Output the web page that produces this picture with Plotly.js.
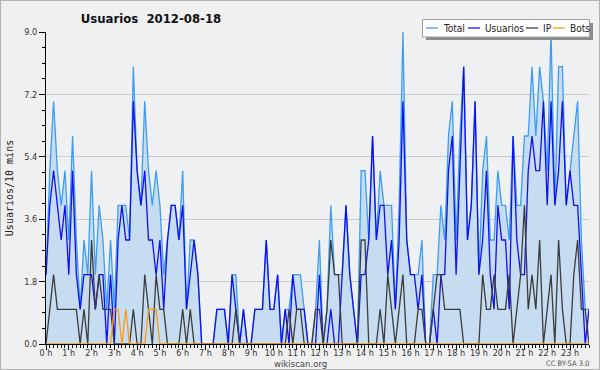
<!DOCTYPE html>
<html>
<head>
<meta charset="utf-8">
<script src="https://cdn.plot.ly/plotly-3.0.1.min.js"></script>
<style>
  html, body { margin: 0; padding: 0; background: #f0f0f0; }
  #wrap { position: relative; width: 600px; height: 370px; }
  #chart { width: 600px; height: 370px; }
  #frame { position: absolute; left: 0; top: 0; width: 600px; height: 370px; box-sizing: border-box;
           border: 1px solid #b4b4b4; pointer-events: none; }
</style>
</head>
<body>
<div id="wrap"><div id="chart"></div><div id="frame"></div></div>
<script>
// ---- data (one value per 10-minute slot, 2012-08-18) ----
const hourLabels = ['0 h','1 h','2 h','3 h','4 h','5 h','6 h','7 h','8 h','9 h','10 h','11 h',
                    '12 h','13 h','14 h','15 h','16 h','17 h','18 h','19 h','20 h','21 h','22 h','23 h'];

const total = [
  2,5,7,5,4,5,3,6,3,1,3,2,5,2,4,3,1,3,1,4,4,4,3,8,
  5,4,7,5,4,5,4,2,3,4,4,3,5,1,3,3,2,0,0,0,0,1,1,1,
  0,2,2,0,1,0,0,1,1,1,3,1,1,2,0,1,1,2,2,2,1,0,0,1,
  3,0,1,4,2,2,2,4,2,1,0,5,5,3,6,3,5,4,4,4,1,4,9,3,
  2,2,2,3,0,0,2,2,4,3,6,7,3,6,8,3,4,7,2,5,6,3,3,5,
  4,4,3,6,4,4,6,6,8,6,8,7,5,9,4,8,8,4,5,6,7,3,1,1
];
const usuarios = [
  2,4,5,4,3,4,2,5,2,1,2,2,2,1,2,2,0,2,0,3,4,3,3,7,
  5,4,5,3,3,2,3,1,3,4,4,3,4,1,2,3,2,0,0,0,0,1,1,1,
  0,2,1,0,1,0,0,1,1,1,3,1,1,2,0,1,0,2,1,1,1,0,0,0,
  2,0,0,1,0,0,2,4,2,1,0,2,2,3,6,3,4,4,2,3,1,3,7,3,
  2,2,1,2,0,0,1,0,2,2,5,6,2,5,8,3,4,7,2,3,5,2,1,4,
  3,3,1,6,3,2,2,5,6,5,5,7,4,7,4,5,7,4,5,4,4,2,0,1
];
const ip = [
  0,1,2,1,1,1,1,1,1,0,1,0,3,1,2,1,1,1,0,0,0,0,0,1,
  0,0,2,1,0,2,1,1,0,0,0,0,1,0,1,0,0,0,0,0,0,0,0,0,
  0,0,1,0,0,0,0,0,0,0,0,0,0,0,0,0,1,0,1,1,0,0,0,1,
  1,0,1,3,2,2,0,0,0,0,0,3,3,0,0,0,1,0,2,1,0,1,2,0,
  0,0,1,1,0,0,1,2,2,1,1,1,1,1,0,0,0,0,0,2,1,1,2,1,
  1,1,2,0,1,2,4,1,2,1,3,0,1,2,0,3,1,0,0,2,3,1,1,0
];
const bots = [
  0,0,0,0,0,0,0,0,0,0,0,0,0,0,0,0,0,0,1,1,0,1,0,0,
  0,0,0,1,1,1,0,0,0,0,0,0,0,0,0,0,0,0,0,0,0,0,0,0,
  0,0,0,0,0,0,0,0,0,0,0,0,0,0,0,0,0,0,0,0,0,0,0,0,
  0,0,0,0,0,0,0,0,0,0,0,0,0,0,0,0,0,0,0,0,0,0,0,0,
  0,0,0,0,0,0,0,0,0,0,0,0,0,0,0,0,0,0,0,0,0,0,0,0,
  0,0,0,0,0,0,0,0,0,0,0,0,0,0,0,0,0,0,0,0,0,0,0,0
];
const seriesNames = ['Total', 'Usuarios', 'IP', 'Bots'];
const chartTitle = 'Usuarios\u00a0\u00a02012-08-18';
const yTitle = 'Usuarios/10 mins';
const footerLeft = 'wikiscan.org';
const footerRight = 'CC BY-SA 3.0';

// ---- layout helpers ----
const W = 600, H = 370, M = {l: 46, r: 11, t: 32, b: 26};
const PW = W - M.l - M.r, PH = H - M.t - M.b;
const px = x => (x - M.l) / PW;          // pixel -> paper x
const py = y => (H - M.b - y) / PH;      // pixel -> paper y

const hours = total.map((_, i) => i / 6); // slot index -> hours
const colors = ['#3d9df0', '#1010f0', '#3c3c3c', '#ff9a10'];
const FONT = 'DejaVu Sans Condensed, DejaVu Sans, sans-serif';

const mk = (vals, k, extra) => Object.assign({
  x: hours, y: vals, type: 'scatter', mode: 'lines', name: seriesNames[k],
  line: {color: colors[k], width: 1.3}, hoverinfo: 'skip', showlegend: false
}, extra || {});

const traces = [
  mk(total, 0, {fill: 'tozeroy', fillcolor: '#c6dcf1'}),
  mk(usuarios, 1),
  mk(ip, 2),
  mk(bots, 3)
];

// manual legend (compact like the original)
const legX = [426, 468, 526, 553];
const shapes = [
  {type: 'rect', xref: 'paper', yref: 'paper', x0: px(426), x1: px(593), y0: py(40), y1: py(23),
   fillcolor: '#8c8c8c', line: {width: 0}},
  {type: 'rect', xref: 'paper', yref: 'paper', x0: px(422.5), x1: px(589.5), y0: py(37), y1: py(19.5),
   fillcolor: '#ffffff', line: {color: '#a0a0a0', width: 1}}
];
const annotations = [];
seriesNames.forEach((n, k) => {
  shapes.push({type: 'line', xref: 'paper', yref: 'paper', x0: px(legX[k]), x1: px(legX[k] + 12),
               y0: py(28), y1: py(28), line: {color: colors[k], width: 1.3}});
  annotations.push({xref: 'paper', yref: 'paper', x: px(legX[k] + 15), y: py(28.5), xanchor: 'left',
                    yanchor: 'middle', showarrow: false, text: n,
                    font: {family: FONT, size: 10, color: '#222'}});
});
annotations.push({xref: 'paper', yref: 'paper', x: px(300), y: py(363), xanchor: 'center', yanchor: 'middle',
                  showarrow: false, text: footerLeft, font: {family: FONT, size: 9.5, color: '#444'}});
annotations.push({xref: 'paper', yref: 'paper', x: px(591), y: py(363.5), xanchor: 'right', yanchor: 'middle',
                  showarrow: false, text: footerRight, font: {family: FONT, size: 7.5, color: '#555'}});

const layout = {
  width: W, height: H, margin: M,
  paper_bgcolor: '#f0f0f0', plot_bgcolor: '#eef0f2',
  showlegend: false,
  title: {text: '<b>' + chartTitle + '</b>', xref: 'container', yref: 'container',
          x: 151 / W, xanchor: 'center', y: 1 - 18 / H, yanchor: 'middle',
          font: {family: FONT, size: 13, color: '#111'}},
  xaxis: {
    range: [0, (total.length - 1) / 6], tickmode: 'array',
    tickvals: hourLabels.map((_, h) => h), ticktext: hourLabels,
    ticks: 'outside', ticklen: 5, tickwidth: 1, tickcolor: '#000', ticklabelstandoff: -5,
    minor: {tickmode: 'linear', tick0: 0, dtick: 1 / 6, ticks: 'outside', ticklen: 3, tickcolor: '#000', showgrid: false},
    showgrid: false, zeroline: false, showline: true, linecolor: '#000', linewidth: 1,
    tickfont: {family: FONT, size: 9, color: '#333'}, fixedrange: true
  },
  yaxis: {
    range: [0, 9], tickmode: 'linear', tick0: 0, dtick: 1.8, tickformat: '.1f',
    ticks: 'outside', ticklen: 6, tickwidth: 1, tickcolor: '#000',
    minor: {tickmode: 'linear', tick0: 0, dtick: 0.45, ticks: 'outside', ticklen: 3, tickcolor: '#000', showgrid: false},
    showgrid: true, gridcolor: '#cbcbcb', gridwidth: 1, zeroline: false,
    showline: true, linecolor: '#000', linewidth: 1,
    tickfont: {family: FONT, size: 9, color: '#333'},
    title: {text: yTitle, standoff: 8, font: {family: 'DejaVu Sans Mono, monospace', size: 10, color: '#222'}},
    automargin: false, fixedrange: true
  },
  shapes: shapes,
  annotations: annotations
};

Plotly.newPlot('chart', traces, layout, {staticPlot: true, displayModeBar: false});
</script>
</body>
</html>
